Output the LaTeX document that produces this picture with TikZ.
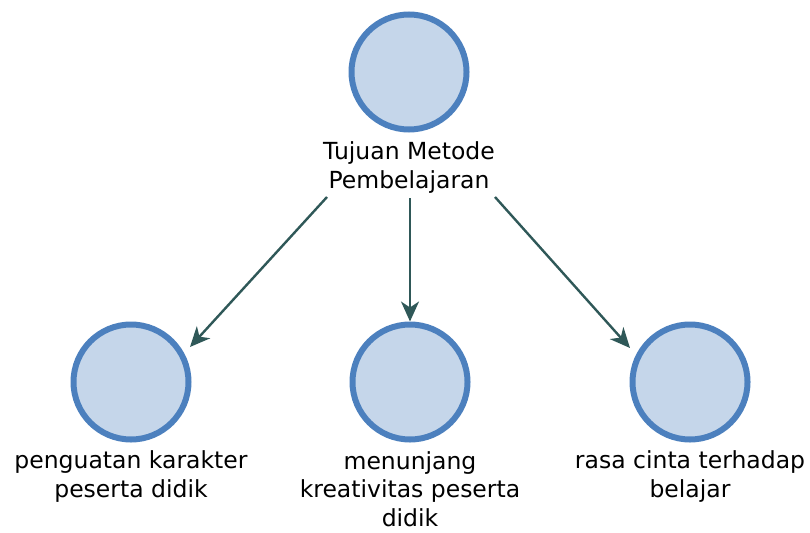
\documentclass[tikz,border=0pt]{standalone}
\usepackage{fontspec}
\setmainfont{DejaVu Sans}
\usetikzlibrary{arrows.meta}
\definecolor{ringblue}{HTML}{4C80BE}
\definecolor{fillblue}{HTML}{C5D6EA}
\definecolor{arrowcol}{HTML}{2F5858}
\tikzset{
  ball/.style={circle, draw=ringblue, fill=fillblue, line width=6pt, minimum size=115pt, inner sep=0pt},
  lbl/.style={align=center, inner sep=0pt, font=\fontsize{23.5}{28.5}\selectfont, text=black, anchor=base},
  conn/.style={draw=arrowcol, line width=2.4pt, -{Stealth[length=20pt, width=18pt, inset=6pt]}}
}
\begin{document}
\begin{tikzpicture}[x=1pt, y=-1pt]
\useasboundingbox (0,0) rectangle (810,532);
\node[ball] (top) at (409,72) {};
\node[lbl] (toplbl) at (409,188) {Tujuan Metode\\Pembelajaran};
\node[ball] (b1) at (131,382) {};
\node[ball] (b2) at (410,382) {};
\node[ball] (b3) at (690,382) {};
\node[lbl] (l1) at (131,497) {penguatan karakter\\peserta didik};
\node[lbl] (l2) at (410,526) {menunjang\\kreativitas peserta\\didik};
\node[lbl] (l3) at (690,497) {rasa cinta terhadap\\belajar};
\coordinate (s1) at (327,197);
\coordinate (s2) at (410,198);
\coordinate (s3) at (495,197);
\coordinate (e1) at (190,347);
\coordinate (e3) at (630,348);
\draw[conn] (s1) -- (e1);
\draw[conn] (s2) -- (b2.north);
\draw[conn] (s3) -- (e3);
\end{tikzpicture}
\end{document}
